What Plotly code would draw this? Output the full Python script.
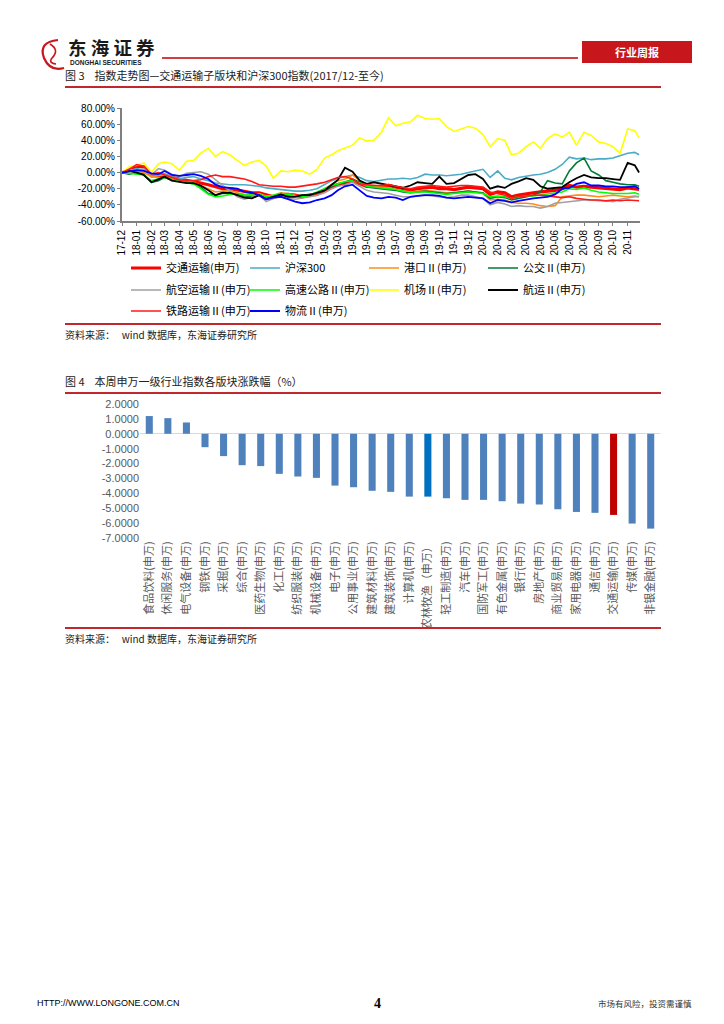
import plotly.graph_objects as go

W, H = 724, 1024

def X(px):
    return px / W

def Y(py):
    return 1 - py / H

# ---------------- Chart 1 data (semi-monthly readings, %) ----------------
dates = []
for k in range(72):
    mm = 11 + k // 2
    yy = 2017 + mm // 12
    mo = mm % 12 + 1
    dd = 1 if k % 2 == 0 else 16
    dates.append(f"{yy}-{mo:02d}-{dd:02d}")
dates.append("2020-11-25")

jtys = [0, 3, 8, 7, -4, -4, -3, -6, -8, -10,
        -11, -13, -15, -18, -20, -20, -22, -23, -25, -25,
        -28, -30, -28, -27, -28, -30, -28, -27, -22, -18,
        -15, -14, -10, -14, -17, -17, -18, -16, -18, -19,
        -22, -20, -19, -18, -20, -20, -21, -19, -18, -19,
        -20, -27, -24, -25, -30, -28, -26, -25, -24, -23,
        -22, -20, -16, -18, -17, -18, -19, -20, -20, -21,
        -19, -20, -21]
hs300 = [0, 2, 5, 3, -3, -2, -2, -5, -8, -6,
         -5, -8, -10, -13, -14, -15, -15, -15, -16, -17,
         -19, -20, -21, -22, -23, -23, -22, -20, -15, -10,
         -7, -5, -3, -6, -10, -11, -9, -8, -8, -7,
         -8, -6, -2, -3, -3, -4, -3, -2, 0, 2,
         4, -6, 2, -7, -9, -6, -4, -3, -2, 0,
         4, 10, 19, 17, 18, 16, 17, 17, 18, 21,
         24, 25, 22]
gangkou = [0, 1, 2, 0, -5, -4, -3, -7, -9, -11,
           -12, -16, -20, -24, -23, -22, -25, -27, -28, -26,
           -29, -28, -25, -26, -28, -29, -28, -25, -20, -15,
           -10, -8, -3, -10, -16, -17, -18, -19, -21, -22,
           -24, -23, -22, -23, -24, -25, -25, -24, -23, -24,
           -26, -34, -33, -34, -37, -38, -38, -39, -41, -42,
           -41, -30, -29, -28, -28, -29, -30, -29, -28, -29,
           -30, -29, -30]
gongjiao = [0, -2, 0, -2, -12, -10, -6, -9, -10, -12,
            -14, -18, -26, -28, -26, -25, -27, -29, -30, -28,
            -31, -30, -26, -27, -29, -28, -27, -25, -22, -17,
            -14, -12, -8, -12, -18, -19, -20, -21, -22, -24,
            -25, -24, -23, -24, -25, -26, -25, -24, -23, -24,
            -25, -32, -30, -31, -34, -32, -30, -28, -24, -10,
            -13, -14, 2, 12, 18, 2, -3, -10, -12, -14,
            -15, -15, -17]
hangkong = [0, 3, 2, 5, -3, 5, 3, -2, -5, -1,
            0, 1, -2, -9, -15, -22, -30, -33, -30, -28,
            -36, -32, -30, -32, -33, -32, -30, -28, -25, -20,
            -17, -15, -12, -17, -22, -24, -25, -26, -28, -30,
            -30, -29, -28, -29, -30, -31, -30, -28, -28, -30,
            -32, -40, -37, -39, -42, -41, -42, -42, -44, -42,
            -38, -37, -36, -35, -34, -34, -35, -35, -36, -33,
            -31, -30, -30]
gaosu = [0, -1, -2, -3, -10, -8, -6, -9, -11, -13,
         -14, -20, -27, -30, -29, -27, -26, -28, -28, -27,
         -30, -28, -26, -27, -29, -30, -28, -24, -20, -16,
         -14, -11, -10, -13, -17, -18, -19, -20, -21, -23,
         -25, -24, -24, -25, -26, -27, -26, -25, -24, -25,
         -26, -30, -29, -30, -32, -30, -29, -29, -28, -27,
         -25, -24, -20, -21, -19, -22, -24, -25, -26, -26,
         -26, -25, -27]
jichang = [0, 7, 9, 12, 0, 11, 13, 11, 3, 14,
           15, 24, 30, 20, 26, 22, 15, 9, 13, 15,
           8, -7, 2, 1, 3, 2, -2, 4, 18, 22,
           27, 30, 34, 43, 39, 40, 50, 68, 58, 61,
           63, 71, 67, 66, 67, 57, 51, 54, 57, 55,
           47, 32, 42, 40, 22, 24, 32, 38, 30, 42,
           48, 44, 50, 34, 50, 46, 38, 36, 32, 24,
           54, 52, 43]
hangyun = [0, 2, 0, -3, -12, -8, -5, -10, -12, -13,
           -13, -16, -22, -28, -25, -25, -28, -31, -32, -28,
           -33, -30, -27, -30, -30, -28, -28, -25, -22, -15,
           -9, 6, 1, -10, -14, -12, -14, -16, -17, -19,
           -16, -12, -13, -14, -5, -14, -13, -8, -3, -2,
           -8, -20, -17, -19, -14, -11, -7, -9, -17, -20,
           -19, -18, -12, -7, -3, -6, -7, -7, -8, -9,
           12, 9, 0]
tielu = [0, 4, 10, 8, -2, 0, -3, -6, -9, -10,
         -10, -9, -5, -3, -5, -5, -7, -8, -11, -15,
         -16, -17, -17, -18, -18, -17, -15, -14, -12, -9,
         -6, -5, -8, -14, -15, -16, -16, -15, -17, -18,
         -20, -18, -17, -16, -17, -18, -17, -16, -16, -17,
         -18, -24, -26, -28, -32, -30, -29, -28, -28, -29,
         -30, -31, -30, -32, -33, -34, -34, -35, -34, -35,
         -34, -35, -35]
wuliu = [0, 1, 3, 2, -1, -2, 2, -3, -4, -3,
         -2, -4, -8, -15, -18, -19, -20, -24, -25, -28,
         -33, -31, -30, -33, -36, -38, -37, -34, -32, -28,
         -22, -17, -15, -22, -29, -31, -32, -30, -31, -34,
         -30, -29, -28, -28, -29, -31, -32, -31, -30, -31,
         -32, -38, -34, -35, -37, -35, -33, -32, -31, -30,
         -27, -20, -19, -14, -12, -16, -16, -17, -17, -18,
         -18, -17, -20]

series_names = ["交通运输(申万)", "沪深300", "港口Ⅱ(申万)", "公交Ⅱ(申万)",
                "航空运输Ⅱ(申万)", "高速公路Ⅱ(申万)", "机场Ⅱ(申万)", "航运Ⅱ(申万)",
                "铁路运输Ⅱ(申万)", "物流Ⅱ(申万)"]
series_values = [jtys, hs300, gangkou, gongjiao, hangkong, gaosu, jichang, hangyun, tielu, wuliu]
series_colors = ["#FF0000", "#4BACC6", "#FF8C1A", "#007A37", "#A0A0A0",
                 "#00FF00", "#FFFF00", "#000000", "#FF1A1A", "#0000FF"]
series_widths = [3.2, 1.6, 1.6, 1.6, 1.6, 1.6, 1.6, 1.8, 1.6, 1.8]
series_legend = ["legend", "legend", "legend", "legend",
                 "legend2", "legend2", "legend2", "legend2",
                 "legend3", "legend3"]

y1_ticks = [80, 60, 40, 20, 0, -20, -40, -60]

# ---------------- Chart 2 data ----------------
industries = ["食品饮料(申万)", "休闲服务(申万)", "电气设备(申万)", "钢铁(申万)", "采掘(申万)",
              "综合(申万)", "医药生物(申万)", "化工(申万)", "纺织服装(申万)", "机械设备(申万)",
              "电子(申万)", "公用事业(申万)", "建筑材料(申万)", "建筑装饰(申万)", "计算机(申万)",
              "农林牧渔（申万）", "轻工制造(申万)", "汽车(申万)", "国防军工(申万)", "有色金属(申万)",
              "银行(申万)", "房地产(申万)", "商业贸易(申万)", "家用电器(申万)", "通信(申万)",
              "交通运输(申万)", "传媒(申万)", "非银金融(申万)"]
changes = [1.19, 1.05, 0.76, -0.90, -1.50, -2.11, -2.17, -2.69, -2.87, -2.96,
           -3.48, -3.59, -3.83, -3.90, -4.22, -4.22, -4.33, -4.44, -4.44, -4.53,
           -4.69, -4.75, -5.07, -5.25, -5.31, -5.45, -6.03, -6.37]
y2_ticks = [2, 1, 0, -1, -2, -3, -4, -5, -6, -7]

bar_colors = []
for name in industries:
    if name.startswith("交通运输"):
        bar_colors.append("#C00000")
    elif name.startswith("农林牧渔"):
        bar_colors.append("#0070C0")
    else:
        bar_colors.append("#4F81BD")

CJK = "Noto Sans CJK SC"
fig = go.Figure()

for name, vals, col, wd, lg in zip(series_names, series_values, series_colors,
                                   series_widths, series_legend):
    fig.add_trace(go.Scatter(x=dates, y=vals, name=name, mode="lines",
                             line=dict(color=col, width=wd), xaxis="x", yaxis="y",
                             legend=lg))

fig.add_trace(go.Bar(x=industries, y=changes, marker=dict(color=bar_colors, line=dict(width=0)),
                     xaxis="x2", yaxis="y2", showlegend=False))

def legend_row(ypx):
    return dict(orientation="h", x=X(126), y=Y(ypx), xanchor="left", yanchor="middle",
                entrywidth=74, entrywidthmode="pixels", itemwidth=30,
                font=dict(family=CJK, size=11, color="#000"),
                bgcolor="rgba(0,0,0,0)", borderwidth=0)

fig.update_layout(
    width=W, height=H, margin=dict(l=0, r=0, t=0, b=0, autoexpand=False),
    paper_bgcolor="white", plot_bgcolor="white",
    showlegend=True,
    bargap=0.62,
    xaxis=dict(domain=[X(122), X(640)], type="date",
               range=["2017-12-01", "2020-11-27"],
               tick0="2017-12-01", dtick="M1", tickformat="%y-%m",
               tickangle=-90, tickfont=dict(family="Arial", size=10, color="#000"),
               showgrid=False, zeroline=False,
               showline=True, linecolor="#7F7F7F", linewidth=2,
               ticks="outside", ticklen=3, tickcolor="#7F7F7F", anchor="y"),
    yaxis=dict(domain=[Y(221), Y(108)], range=[-60, 80],
               tickvals=y1_ticks, ticktext=["%.2f%%" % v for v in y1_ticks],
               tickfont=dict(family="Arial", size=10, color="#000"),
               showgrid=False, zeroline=False,
               showline=True, linecolor="#7F7F7F", linewidth=2,
               ticks="outside", ticklen=3, tickcolor="#7F7F7F", anchor="x"),
    xaxis2=dict(domain=[X(140), X(660)], type="category",
                tickangle=-90, tickfont=dict(family=CJK, size=11, color="#595959"),
                showgrid=False, zeroline=False, showline=False, ticks="", anchor="y2"),
    yaxis2=dict(domain=[Y(538), Y(404)], range=[-7, 2],
                tickvals=y2_ticks, ticktext=["%.4f" % v for v in y2_ticks],
                tickfont=dict(family="Arial", size=11, color="#595959"),
                showgrid=False, zeroline=True, zerolinecolor="#D9D9D9", zerolinewidth=1,
                showline=False, ticks="", anchor="x2"),
    legend=legend_row(268),
    legend2=legend_row(290),
    legend3=legend_row(311),
)

shapes = []
def hline(y, x0, x1, color="#C0282D", width=2):
    shapes.append(dict(type="line", xref="paper", yref="paper",
                       x0=X(x0), x1=X(x1), y0=Y(y), y1=Y(y),
                       line=dict(color=color, width=width)))

hline(58, 162, 578, "#C00000", 1.3)
hline(87, 65, 661)
hline(324, 65, 661)
hline(393, 65, 661)
hline(628, 65, 661)
shapes.append(dict(type="rect", xref="paper", yref="paper",
                   x0=X(582), x1=X(692), y0=Y(63), y1=Y(41),
                   fillcolor="#C8161D", line=dict(width=0)))
def P(x, y):
    return f"{X(x):.5f},{Y(y):.5f}"
logo_path = ("M " + P(58, 40) + " Q " + P(38, 42) + " " + P(44, 58) +
             " Q " + P(50, 72) + " " + P(64, 68))
shapes.append(dict(type="path", xref="paper", yref="paper", path=logo_path,
                   line=dict(color="#C8161D", width=2.2)))
logo_path2 = ("M " + P(50, 44) + " Q " + P(60, 50) + " " + P(52, 58) +
              " Q " + P(48, 63) + " " + P(56, 64))
shapes.append(dict(type="path", xref="paper", yref="paper", path=logo_path2,
                   line=dict(color="#C8161D", width=1.6)))
fig.update_layout(shapes=shapes)

def note(x, y, text, size=11, color="#222", family=CJK, xanchor="left", bold=False):
    fig.add_annotation(x=X(x), y=Y(y), xref="paper", yref="paper", text=text,
                       showarrow=False, xanchor=xanchor, yanchor="middle",
                       font=dict(family=family, size=size, color=color,
                                 weight="bold" if bold else "normal"))

note(66, 47, "东 海 证 券", size=18.5, color="#1A1A1A", bold=True)
note(68, 62, "DONGHAI SECURITIES", size=6.5, color="#1A1A1A", family="Arial", bold=True)
note(637, 52, "行业周报", size=11, color="#FFFFFF", xanchor="center", bold=True)
note(63, 75, "图 3    指数走势图—交通运输子版块和沪深300指数(2017/12-至今)", size=11)
note(63, 334, "资料来源：   wind 数据库，东海证券研究所", size=10)
note(63, 381, "图 4    本周申万一级行业指数各版块涨跌幅（%）", size=11)
note(63, 638, "资料来源：   wind 数据库，东海证券研究所", size=10)
note(35, 1003, "HTTP://WWW.LONGONE.COM.CN", size=9, color="#000", family="Arial")
note(377, 1003, "4", size=14, color="#000", family="Liberation Serif", xanchor="center", bold=True)
note(694, 1003, "市场有风险，投资需谨慎", size=8.5, color="#333", xanchor="right")

fig.write_html("out.html", config={"displayModeBar": False},
               post_script="document.body.style.margin='0px';document.body.style.overflow='hidden';")
